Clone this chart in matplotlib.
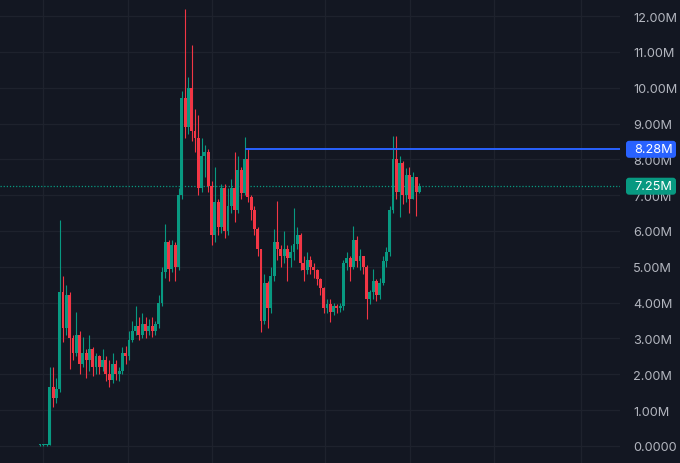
import matplotlib
matplotlib.use("Agg")
import matplotlib.pyplot as plt
import matplotlib.transforms as mtransforms
from matplotlib.patches import FancyBboxPatch
import numpy as np

# candle closes / highs / lows in millions, one per bar (open = previous close)
closes = [0.03, 0.03, 0.04, 1.65, 1.35, 1.6, 4.3, 3.3, 4.2, 3.0,
          2.6, 3.1, 2.3, 2.6, 2.4, 2.7, 2.2, 2.5, 2.2, 2.4,
          2.0, 1.85, 2.3, 2.0, 2.1, 2.6, 2.5, 2.95, 3.2, 3.35,
          3.1, 3.4, 3.2, 3.35, 3.2, 3.4, 4.0, 4.85, 5.7, 4.95,
          5.6, 5.0, 7.0, 9.7, 8.9, 10.0, 8.8, 8.6, 7.2, 8.1,
          8.2, 7.25, 5.9, 6.8, 6.1, 7.2, 6.0, 6.7, 7.2, 6.6,
          7.7, 7.05, 8.0, 6.95, 6.6, 6.05, 5.5, 3.5, 4.55, 3.85,
          4.75, 5.7, 5.5, 5.3, 5.5, 5.25, 5.4, 5.65, 5.9, 5.1,
          4.9, 5.2, 5.0, 4.9, 4.65, 4.4, 3.85, 3.95, 3.75, 3.9,
          3.85, 3.9, 5.1, 5.25, 5.0, 5.75, 5.15, 5.3, 5.0, 4.1,
          4.3, 4.6, 4.2, 4.55, 5.15, 5.4, 6.6, 8.0, 7.1, 7.9,
          7.0, 7.55, 6.9, 7.5, 7.1, 7.25]
highs = [0.05, 0.05, 0.05, 2.2, 2.2, 1.9, 6.3, 4.75, 4.5, 4.3,
         3.1, 3.75, 3.2, 3.05, 2.7, 3.1, 2.75, 2.6, 2.55, 2.7,
         2.5, 2.4, 2.6, 2.4, 2.2, 2.75, 2.8, 3.2, 3.5, 3.9,
         3.6, 3.7, 3.6, 3.55, 3.6, 3.5, 4.2, 5.0, 6.2, 5.75,
         5.75, 5.7, 7.2, 9.9, 12.2, 10.3, 11.2, 9.4, 9.25, 8.6,
         8.4, 8.3, 7.4, 7.8, 6.9, 7.3, 7.3, 7.2, 7.45, 8.2,
         8.1, 7.8, 8.62, 8.28, 7.0, 6.7, 6.1, 5.5, 4.8, 4.6,
         5.0, 6.05, 6.85, 5.6, 6.0, 5.6, 5.6, 6.65, 6.1, 5.95,
         5.3, 5.4, 5.3, 5.1, 4.95, 4.7, 4.45, 4.1, 4.1, 4.0,
         3.95, 4.0, 5.2, 5.4, 5.3, 6.15, 5.85, 5.5, 5.3, 5.05,
         4.35, 4.95, 4.65, 4.7, 5.3, 5.55, 6.7, 8.65, 8.65, 8.1,
         7.95, 7.75, 7.8, 7.65, 7.5, 7.35]
lows = [0.0, 0.0, 0.0, 0.02, 1.1, 1.2, 1.5, 2.9, 3.1, 2.15,
        2.4, 2.5, 2.0, 2.2, 1.9, 2.1, 1.95, 2.0, 2.0, 2.1,
        1.8, 1.65, 1.75, 1.85, 1.8, 2.0, 2.3, 2.4, 2.9, 3.1,
        2.95, 3.0, 3.0, 3.1, 3.05, 3.1, 3.3, 3.9, 4.7, 4.6,
        4.85, 4.6, 4.9, 6.9, 8.6, 8.7, 8.5, 8.2, 7.0, 7.1,
        7.5, 7.1, 5.6, 5.7, 5.9, 5.95, 5.8, 5.9, 6.5, 6.25,
        6.5, 6.9, 7.0, 6.8, 6.3, 5.9, 5.3, 3.18, 3.4, 3.3,
        3.7, 4.6, 5.2, 5.0, 5.1, 4.6, 5.0, 5.2, 5.5, 4.9,
        4.6, 4.8, 4.8, 4.7, 4.5, 4.2, 3.7, 3.7, 3.45, 3.65,
        3.7, 3.75, 3.8, 4.9, 4.6, 4.95, 5.0, 4.9, 4.8, 3.55,
        3.95, 4.1, 4.05, 4.1, 4.5, 5.0, 5.3, 6.5, 6.9, 6.4,
        6.75, 6.8, 6.5, 6.9, 6.42, 7.05]
first_open = 0.02

level_line = 8.28      # drawn horizontal line
last_price = 7.25
level_start = 62       # bar where the drawn line begins

y_ticks = list(range(0, 13))
time_grid = [0.9, 26.7, 52.1, 86.4, 112.1, 137.6, 163.9]

BG = "#131722"
UP = "#089981"
DOWN = "#F23645"
GRID = "#1e222d"
TXT = "#B2B5BE"

opens = [first_open] + closes[:-1]
idx = np.arange(len(closes))

fig = plt.figure(figsize=(6.8, 4.64), dpi=100, facecolor=BG)
ax = fig.add_axes([0, 0, 620 / 680, 1])
ax.set_facecolor(BG)

for i in idx:
    o, c, h, l = opens[i], closes[i], highs[i], lows[i]
    col = UP if c >= o else DOWN
    ax.vlines(i, l, h, color=col, lw=0.8, zorder=3)
    ax.bar(i, max(abs(c - o), 0.03), bottom=min(o, c), width=0.86,
           color=col, edgecolor="none", zorder=3)

ax.set_xlim(-12.1, 175.8)
ax.set_ylim(-0.475, 12.475)

# grid
ax.set_yticks(y_ticks)
ax.set_xticks(time_grid)
ax.grid(True, color=GRID, lw=0.9)
ax.tick_params(axis="x", length=0, labelbottom=False)
ax.yaxis.tick_right()
ax.tick_params(axis="y", length=0, pad=9.4, labelsize=9.2, labelcolor=TXT)
ax.set_yticklabels(["0.0000" if v == 0 else f"{v:.2f}M" for v in y_ticks],
                   family="Inter")
for s in ax.spines.values():
    s.set_visible(False)

# drawn level + last price line
ax.hlines(level_line, level_start, 175.8, color="#2962FF", lw=1.4, zorder=4)
ax.axhline(last_price, color=UP, lw=0.9, ls=(0, (1, 1.5)), zorder=2)

# price scale labels (boxes in pixel coordinates)
trans = mtransforms.blended_transform_factory(ax.transAxes, ax.transData)
for val, fc in [(level_line, "#2962FF"), (last_price, UP)]:
    y_px = ax.transData.transform((0, val))[1]
    box = FancyBboxPatch((626, y_px - 8.5), 50, 17, transform=None,
                         boxstyle="round,pad=0,rounding_size=3",
                         fc=fc, ec="none", zorder=9, clip_on=False)
    fig.patches.append(box)
    fig.text(634 / 680, y_px / 464, f"{val:.2f}M", ha="left", va="center",
             color="white", fontsize=9.2, family="Inter", zorder=10)

fig.savefig("out.png", dpi=100, facecolor=BG)
